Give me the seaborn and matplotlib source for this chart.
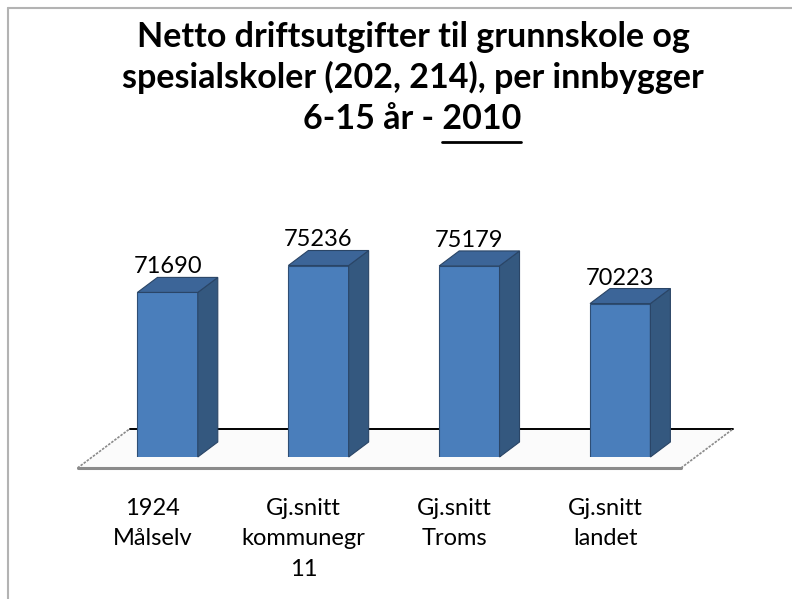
import numpy as np
import pandas as pd
import matplotlib
matplotlib.use("Agg")
import matplotlib.pyplot as plt
from matplotlib.patches import Polygon
from matplotlib.lines import Line2D
import seaborn as sns

# Data
categories = ["1924\nMålselv", "Gj.snitt\nkommunegr\n11", "Gj.snitt\nTroms", "Gj.snitt\nlandet"]
values = [71690, 75236, 75179, 70223]
title_lines = ["Netto driftsutgifter til grunnskole og",
               "spesialskoler (202, 214), per innbygger"]
title_last = "6-15 år - "
title_year = "2010"

AXIS_MIN = 50000
AXIS_MAX = 84000

sns.set_theme(style="white")
plt.rcParams["font.family"] = ["Lato", "DejaVu Sans"]

W, H = 792, 599
fig = plt.figure(figsize=(W / 100, H / 100), dpi=100)
fig.patch.set_facecolor("white")

# Axes placed in pixel units
ax_left, ax_width = 62, 694
ax_bottom, ax_height = 142, 258
ax = fig.add_axes([ax_left / W, ax_bottom / H, ax_width / W, ax_height / H])

df = pd.DataFrame({"cat": categories, "val": values})
front = "#4A7EBB"
sns.barplot(data=df, x="cat", y="val", ax=ax, color=front, width=0.4,
            saturation=1, edgecolor="#2E4E75", linewidth=0.8, zorder=4)
bars = list(ax.patches)

ax.set_xlim(-0.7, 3.9)
ax.set_ylim(AXIS_MIN, AXIS_MAX)
ax.axis("off")

# units per pixel, used for the 3-D depth offset
ux = (3.9 + 0.7) / ax_width
uy = (AXIS_MAX - AXIS_MIN) / ax_height
depth_px = (20, 15)
ddx, ddy = depth_px[0] * ux, depth_px[1] * uy
n = len(values)

# Floor
def shifted(x, t):
    return (x + t * ddx, AXIS_MIN + t * ddy)

t_front, t_back = -0.73, 1.87
fl = shifted(-0.5, t_front); fr = shifted(n - 0.5, t_front)
br = shifted(n - 0.5, t_back); bl = shifted(-0.5, t_back)
ax.add_patch(Polygon([fl, fr, br, bl], closed=True, facecolor="#fbfbfb",
                     edgecolor="none", zorder=1, clip_on=False))
ax.add_line(Line2D([bl[0], br[0]], [bl[1], br[1]], color="black", lw=1.4,
                   zorder=2, clip_on=False))
ax.add_line(Line2D([fl[0], fr[0]], [fl[1], fr[1]], color="#8a8a8a", lw=2.2,
                   zorder=2, clip_on=False))
for a, b in [(fl, bl), (fr, br)]:
    ax.add_line(Line2D([a[0], b[0]], [a[1], b[1]], color="#8a8a8a", lw=1.2,
                       ls=(0, (1.5, 0.8)), zorder=2, clip_on=False))

# Side and top faces of each bar, plus value labels
for i, p in enumerate(bars):
    v = values[i]
    xl = p.get_x(); xr = xl + p.get_width()
    side = [(xr, AXIS_MIN), (xr, v), (xr + ddx, v + ddy), (xr + ddx, AXIS_MIN + ddy)]
    top = [(xl, v), (xr, v), (xr + ddx, v + ddy), (xl + ddx, v + ddy)]
    ax.add_patch(Polygon(side, closed=True, facecolor="#34587F",
                         edgecolor="#2A4566", lw=0.8, zorder=4, clip_on=False))
    ax.add_patch(Polygon(top, closed=True, facecolor="#3C6598",
                         edgecolor="#2A4566", lw=0.8, zorder=4, clip_on=False))
    ax.annotate(f"{v}", (i, v), xytext=(0, 13.7), textcoords="offset points",
                ha="center", va="baseline", fontsize=17, color="black",
                annotation_clip=False, zorder=5)

# Category labels under the floor
for i, c in enumerate(categories):
    ax.annotate(c, xy=(i, H - 498), xycoords=("data", "figure pixels"),
                xytext=(-15 / 1.389, 0), textcoords="offset points",
                ha="center", va="top", fontsize=17, color="black",
                linespacing=1.55, annotation_clip=False)

# Title
cx = 413
TS = 24.5
fig.text(cx / W, (H - 47) / H, title_lines[0], ha="center", va="baseline",
         fontsize=TS, fontweight="bold", color="black")
fig.text(cx / W, (H - 88) / H, title_lines[1], ha="center", va="baseline",
         fontsize=TS, fontweight="bold", color="black")

renderer = fig.canvas.get_renderer()
full = title_last + title_year
base3 = H - 129
t_full = fig.text(0, base3 / H, full, ha="left", va="baseline",
                  fontsize=TS, fontweight="bold", color="black")
t_year = fig.text(0, 0, title_year, fontsize=TS, fontweight="bold", alpha=0)
wf = t_full.get_window_extent(renderer).width
wy = t_year.get_window_extent(renderer).width
t_year.remove()
end3 = 521
start = end3 - wf
t_full.set_x(start / W)
uline = base3 - 13
fig.add_artist(Line2D([(start + wf - wy) / W, (start + wf) / W],
                      [uline / H, uline / H], color="black", lw=2))

# Chart border (top and left)
fig.add_artist(Line2D([8 / W, 1], [(H - 8) / H, (H - 8) / H], color="#b3b3b3", lw=1.5))
fig.add_artist(Line2D([8 / W, 8 / W], [0, (H - 8) / H], color="#b3b3b3", lw=1.5))

fig.savefig("out.png", dpi=100, facecolor="white")
